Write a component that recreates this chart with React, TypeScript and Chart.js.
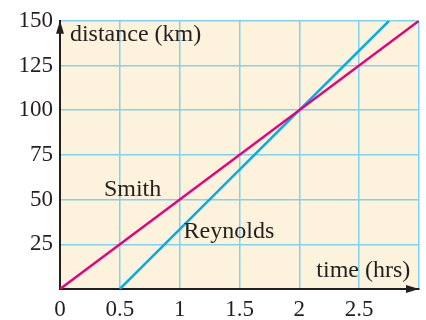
import React, { useEffect, useRef } from "react";
import { Chart, registerables } from "chart.js";

Chart.register(...registerables);

const smithTimes = [0, 3];
const smithDistances = [0, 150];
const reynoldsTimes = [0.5, 2, 2.75];
const reynoldsDistances = [0, 100, 150];
const xTickLabels = ["0", "0.5", "1", "1.5", "2", "2.5"];
const yTickLabels = ["25", "50", "75", "100", "125", "150"];
const annotationTexts = ["distance (km)", "time (hrs)", "Smith", "Reynolds"];
const annotationTimes = [0.083, 2.142, 0.367, 1.033];
const annotationDistances = [138.5, 6.6, 52, 28.5];

const FONT = "'Liberation Serif', 'Times New Roman', serif";
const TEXT = "#231f20";

export default function App() {
  const ref = useRef<HTMLCanvasElement>(null);
  useEffect(() => {
    document.body.style.margin = "0";
    const canvas = ref.current!;
    const decor = {
      id: "decor",
      beforeDraw(chart: any) {
        const { ctx, chartArea: a } = chart;
        ctx.save();
        ctx.fillStyle = "#fdf2dc";
        ctx.fillRect(a.left, a.top, a.right - a.left, a.bottom - a.top);
        ctx.restore();
      },
      afterDraw(chart: any) {
        const { ctx, chartArea: a, scales } = chart;
        ctx.save();
        ctx.fillStyle = TEXT;
        ctx.beginPath();
        ctx.moveTo(a.left, a.top);
        ctx.lineTo(a.left - 4, a.top + 13);
        ctx.lineTo(a.left + 4, a.top + 13);
        ctx.closePath();
        ctx.fill();
        ctx.beginPath();
        ctx.moveTo(a.right, a.bottom);
        ctx.lineTo(a.right - 13, a.bottom - 4);
        ctx.lineTo(a.right - 13, a.bottom + 4);
        ctx.closePath();
        ctx.fill();
        ctx.font = `24px ${FONT}`;
        ctx.textBaseline = "alphabetic";
        ctx.textAlign = "left";
        annotationTexts.forEach((t, i) => {
          const x = scales.x.getPixelForValue(annotationTimes[i]);
          const y = scales.y.getPixelForValue(annotationDistances[i]);
          ctx.fillText(t, x, y);
        });
        ctx.restore();
      },
    };
    const chart = new Chart(canvas, {
      type: "scatter",
      data: {
        datasets: [
          {
            label: "Smith",
            data: smithTimes.map((x, i) => ({ x, y: smithDistances[i] })),
            showLine: true,
            borderColor: "#e6007e",
            borderWidth: 2.5,
            pointRadius: 0,
          },
          {
            label: "Reynolds",
            data: reynoldsTimes.map((x, i) => ({ x, y: reynoldsDistances[i] })),
            showLine: true,
            borderColor: "#00aeef",
            borderWidth: 2.5,
            pointRadius: 0,
          },
        ],
      },
      options: {
        responsive: false,
        animation: false,
        layout: { padding: { top: 15, right: 6, left: 0, bottom: 0 } },
        plugins: { legend: { display: false }, tooltip: { enabled: false } },
        scales: {
          x: {
            type: "linear",
            min: 0,
            max: 3,
            afterFit: (s: any) => { s.height = 31; },
            grid: { color: "#7fd2f0", lineWidth: 1.5, drawTicks: false },
            border: { color: TEXT, width: 2 },
            ticks: {
              stepSize: 0.5,
              padding: 7,
              color: TEXT,
              font: { family: FONT, size: 23 },
              callback: (v: any) => {
                const i = Math.round(Number(v) * 2);
                return xTickLabels[i] ?? "";
              },
            },
          },
          y: {
            type: "linear",
            min: 0,
            max: 150,
            afterFit: (s: any) => { s.width = 60; },
            grid: { color: "#7fd2f0", lineWidth: 1.5, drawTicks: false },
            border: { color: TEXT, width: 2 },
            ticks: {
              stepSize: 25,
              padding: 7,
              color: TEXT,
              font: { family: FONT, size: 23 },
              callback: (v: any) => {
                const i = Math.round(Number(v) / 25) - 1;
                return i >= 0 ? yTickLabels[i] ?? "" : "";
              },
            },
          },
        },
      },
      plugins: [decor],
    });
    return () => chart.destroy();
  }, []);
  return (
    <div style={{ width: 426, height: 320, background: "#fff" }}>
      <canvas ref={ref} width={426} height={320} />
    </div>
  );
}
